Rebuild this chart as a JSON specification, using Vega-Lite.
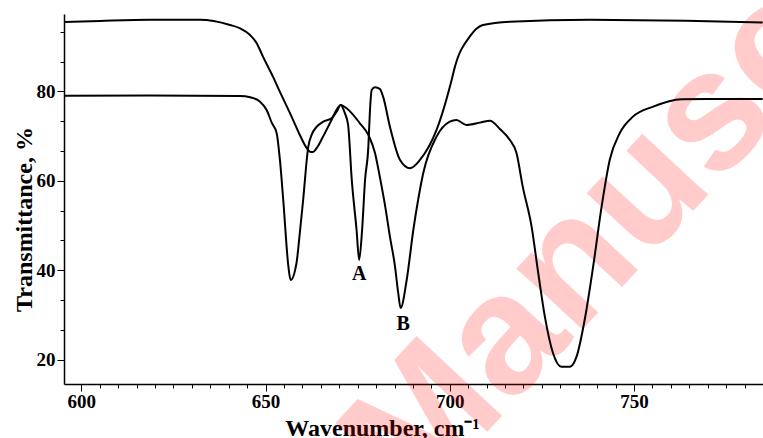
{
  "$schema": "https://vega.github.io/schema/vega-lite/v6.json",
  "width": 699,
  "height": 370,
  "autosize": {"type": "none"},
  "padding": {"left": 64, "top": 14, "right": 0, "bottom": 54},
  "background": "white",
  "config": {
    "view": {"stroke": null},
    "axis": {
      "domainColor": "black",
      "domainWidth": 1.5,
      "tickColor": "black",
      "tickWidth": 1,
      "grid": false,
      "labelFont": "Liberation Serif",
      "labelFontWeight": "bold",
      "labelFontSize": 19,
      "labelColor": "black",
      "titleFont": "Liberation Serif",
      "titleFontWeight": "bold",
      "titleFontSize": 24,
      "titleColor": "black",
      "labelOverlap": false,
      "labelFlush": false,
      "zindex": 1
    }
  },
  "datasets": {
    "wm": [{"wn": 774.0, "tr": 60.3, "t": "Manuscript"}],
    "labels": [
      {"wn": 675.4, "tr": 39.15, "lab": "A"},
      {"wn": 687.35, "tr": 27.96, "lab": "B"}
    ],
    "spectra": [
      {"curve": "upper", "wn": 595.3, "tr": 95.5},
      {"curve": "upper", "wn": 605.1, "tr": 95.75},
      {"curve": "upper", "wn": 618.65, "tr": 96.0},
      {"curve": "upper", "wn": 632.2, "tr": 96.0},
      {"curve": "upper", "wn": 640.35, "tr": 94.85},
      {"curve": "upper", "wn": 643.1, "tr": 94.1},
      {"curve": "upper", "wn": 645.8, "tr": 92.6},
      {"curve": "upper", "wn": 647.6, "tr": 90.76},
      {"curve": "upper", "wn": 649.3, "tr": 87.76},
      {"curve": "upper", "wn": 652.0, "tr": 83.29},
      {"curve": "upper", "wn": 653.9, "tr": 79.87},
      {"curve": "upper", "wn": 656.6, "tr": 75.17},
      {"curve": "upper", "wn": 659.3, "tr": 70.25},
      {"curve": "upper", "wn": 661.15, "tr": 67.34},
      {"curve": "upper", "wn": 662.05, "tr": 66.51},
      {"curve": "upper", "wn": 662.9, "tr": 66.44},
      {"curve": "upper", "wn": 663.9, "tr": 67.34},
      {"curve": "upper", "wn": 665.6, "tr": 69.87},
      {"curve": "upper", "wn": 667.9, "tr": 73.6},
      {"curve": "upper", "wn": 669.6, "tr": 76.29},
      {"curve": "upper", "wn": 670.4, "tr": 76.96},
      {"curve": "upper", "wn": 671.5, "tr": 75.17},
      {"curve": "upper", "wn": 672.4, "tr": 72.48},
      {"curve": "upper", "wn": 673.4, "tr": 60.18},
      {"curve": "upper", "wn": 674.7, "tr": 48.99},
      {"curve": "upper", "wn": 675.4, "tr": 42.28},
      {"curve": "upper", "wn": 676.2, "tr": 48.99},
      {"curve": "upper", "wn": 677.0, "tr": 60.18},
      {"curve": "upper", "wn": 677.9, "tr": 67.63},
      {"curve": "upper", "wn": 678.3, "tr": 75.17},
      {"curve": "upper", "wn": 678.8, "tr": 80.31},
      {"curve": "upper", "wn": 679.7, "tr": 80.92},
      {"curve": "upper", "wn": 681.0, "tr": 80.54},
      {"curve": "upper", "wn": 681.9, "tr": 78.81},
      {"curve": "upper", "wn": 683.75, "tr": 72.1},
      {"curve": "upper", "wn": 686.5, "tr": 64.65},
      {"curve": "upper", "wn": 689.2, "tr": 62.8},
      {"curve": "upper", "wn": 691.9, "tr": 64.65},
      {"curve": "upper", "wn": 696.4, "tr": 71.36},
      {"curve": "upper", "wn": 700.5, "tr": 82.55},
      {"curve": "upper", "wn": 701.4, "tr": 85.53},
      {"curve": "upper", "wn": 705.4, "tr": 92.24},
      {"curve": "upper", "wn": 709.0, "tr": 94.85},
      {"curve": "upper", "wn": 716.3, "tr": 95.59},
      {"curve": "upper", "wn": 738.0, "tr": 96.0},
      {"curve": "upper", "wn": 764.2, "tr": 95.8},
      {"curve": "upper", "wn": 784.9, "tr": 95.4},
      {"curve": "lower", "wn": 595.3, "tr": 79.04},
      {"curve": "lower", "wn": 618.65, "tr": 79.08},
      {"curve": "lower", "wn": 643.1, "tr": 78.97},
      {"curve": "lower", "wn": 645.8, "tr": 78.68},
      {"curve": "lower", "wn": 648.5, "tr": 77.7},
      {"curve": "lower", "wn": 650.3, "tr": 75.84},
      {"curve": "lower", "wn": 651.7, "tr": 72.93},
      {"curve": "lower", "wn": 653.0, "tr": 70.69},
      {"curve": "lower", "wn": 653.9, "tr": 64.65},
      {"curve": "lower", "wn": 654.8, "tr": 55.7},
      {"curve": "lower", "wn": 656.2, "tr": 40.78},
      {"curve": "lower", "wn": 656.8, "tr": 37.81},
      {"curve": "lower", "wn": 658.4, "tr": 41.61},
      {"curve": "lower", "wn": 659.3, "tr": 48.32},
      {"curve": "lower", "wn": 660.2, "tr": 55.7},
      {"curve": "lower", "wn": 661.6, "tr": 67.63},
      {"curve": "lower", "wn": 662.5, "tr": 70.25},
      {"curve": "lower", "wn": 663.9, "tr": 72.1},
      {"curve": "lower", "wn": 665.7, "tr": 73.22},
      {"curve": "lower", "wn": 667.9, "tr": 73.98},
      {"curve": "lower", "wn": 669.3, "tr": 75.46},
      {"curve": "lower", "wn": 670.4, "tr": 76.96},
      {"curve": "lower", "wn": 672.0, "tr": 76.22},
      {"curve": "lower", "wn": 675.6, "tr": 72.86},
      {"curve": "lower", "wn": 677.9, "tr": 70.25},
      {"curve": "lower", "wn": 679.7, "tr": 66.22},
      {"curve": "lower", "wn": 681.0, "tr": 60.92},
      {"curve": "lower", "wn": 682.4, "tr": 54.6},
      {"curve": "lower", "wn": 683.75, "tr": 47.5},
      {"curve": "lower", "wn": 685.1, "tr": 41.0},
      {"curve": "lower", "wn": 686.0, "tr": 34.9},
      {"curve": "lower", "wn": 686.65, "tr": 31.54},
      {"curve": "lower", "wn": 688.3, "tr": 37.81},
      {"curve": "lower", "wn": 690.1, "tr": 48.99},
      {"curve": "lower", "wn": 691.4, "tr": 55.7},
      {"curve": "lower", "wn": 692.8, "tr": 61.74},
      {"curve": "lower", "wn": 696.4, "tr": 69.87},
      {"curve": "lower", "wn": 700.0, "tr": 73.22},
      {"curve": "lower", "wn": 701.8, "tr": 73.6},
      {"curve": "lower", "wn": 704.55, "tr": 72.48},
      {"curve": "lower", "wn": 708.2, "tr": 73.0},
      {"curve": "lower", "wn": 710.9, "tr": 73.44},
      {"curve": "lower", "wn": 713.6, "tr": 71.59},
      {"curve": "lower", "wn": 716.3, "tr": 69.13},
      {"curve": "lower", "wn": 718.1, "tr": 66.22},
      {"curve": "lower", "wn": 719.8, "tr": 58.68},
      {"curve": "lower", "wn": 722.2, "tr": 49.73},
      {"curve": "lower", "wn": 724.0, "tr": 39.37},
      {"curve": "lower", "wn": 725.8, "tr": 29.6},
      {"curve": "lower", "wn": 728.0, "tr": 21.48},
      {"curve": "lower", "wn": 730.3, "tr": 18.41},
      {"curve": "lower", "wn": 732.6, "tr": 18.41},
      {"curve": "lower", "wn": 734.4, "tr": 20.65},
      {"curve": "lower", "wn": 736.6, "tr": 28.86},
      {"curve": "lower", "wn": 738.9, "tr": 40.78},
      {"curve": "lower", "wn": 741.2, "tr": 54.21},
      {"curve": "lower", "wn": 743.4, "tr": 64.65},
      {"curve": "lower", "wn": 746.1, "tr": 70.63},
      {"curve": "lower", "wn": 749.7, "tr": 74.34},
      {"curve": "lower", "wn": 755.2, "tr": 76.58},
      {"curve": "lower", "wn": 762.9, "tr": 78.23},
      {"curve": "lower", "wn": 769.6, "tr": 78.3},
      {"curve": "lower", "wn": 784.9, "tr": 78.3}
    ]
  },
  "encoding": {
    "x": {
      "field": "wn", "type": "quantitative",
      "scale": {"domain": [595.3, 785], "nice": false, "zero": false},
      "axis": {
        "title": "Wavenumber, cm⁻¹",
        "values": [600,605,610,615,620,625,630,635,640,645,650,655,660,665,670,675,680,685,690,695,700,705,710,715,720,725,730,735,740,745,750,755,760,765,770,775,780,785],
        "labelExpr": "datum.value % 50 === 0 ? datum.label : ''",
        "tickSize": {"condition": {"test": "datum.value % 50 === 0", "value": 7}, "value": 4},
        "labelPadding": 1,
        "titleX": 318,
        "titleY": 51,
        "titleAlign": "center",
        "titleBaseline": "alphabetic"
      }
    },
    "y": {
      "field": "tr", "type": "quantitative",
      "scale": {"domain": [14.54, 97.3], "nice": false, "zero": false},
      "axis": {
        "title": "Transmittance, %",
        "values": [20, 26.67, 33.33, 40, 46.67, 53.33, 60, 66.67, 73.33, 80, 86.67, 93.33],
        "labelExpr": "datum.value % 20 === 0 ? datum.label : ''",
        "tickSize": {"condition": {"test": "datum.value % 20 === 0", "value": 7}, "value": 4},
        "labelPadding": 2,
        "titleX": -33,
        "titleY": 205,
        "titleAngle": 270,
        "titleAlign": "center",
        "titleBaseline": "alphabetic"
      }
    }
  },
  "layer": [
    {
      "data": {"name": "wm"},
      "mark": {"type": "text", "font": "Liberation Sans", "fontWeight": "bold", "fontSize": 170, "angle": 313, "align": "center", "baseline": "alphabetic", "color": "#ff0000", "opacity": 0.2, "clip": false},
      "encoding": {"text": {"field": "t"}}
    },
    {
      "data": {"name": "spectra"},
      "mark": {"type": "line", "interpolate": "monotone", "color": "black", "strokeWidth": 2},
      "encoding": {"detail": {"field": "curve"}}
    },
    {
      "data": {"name": "labels"},
      "mark": {"type": "text", "font": "Liberation Serif", "fontWeight": "bold", "fontSize": 20, "color": "black", "baseline": "middle", "align": "center"},
      "encoding": {"text": {"field": "lab"}}
    }
  ]
}
